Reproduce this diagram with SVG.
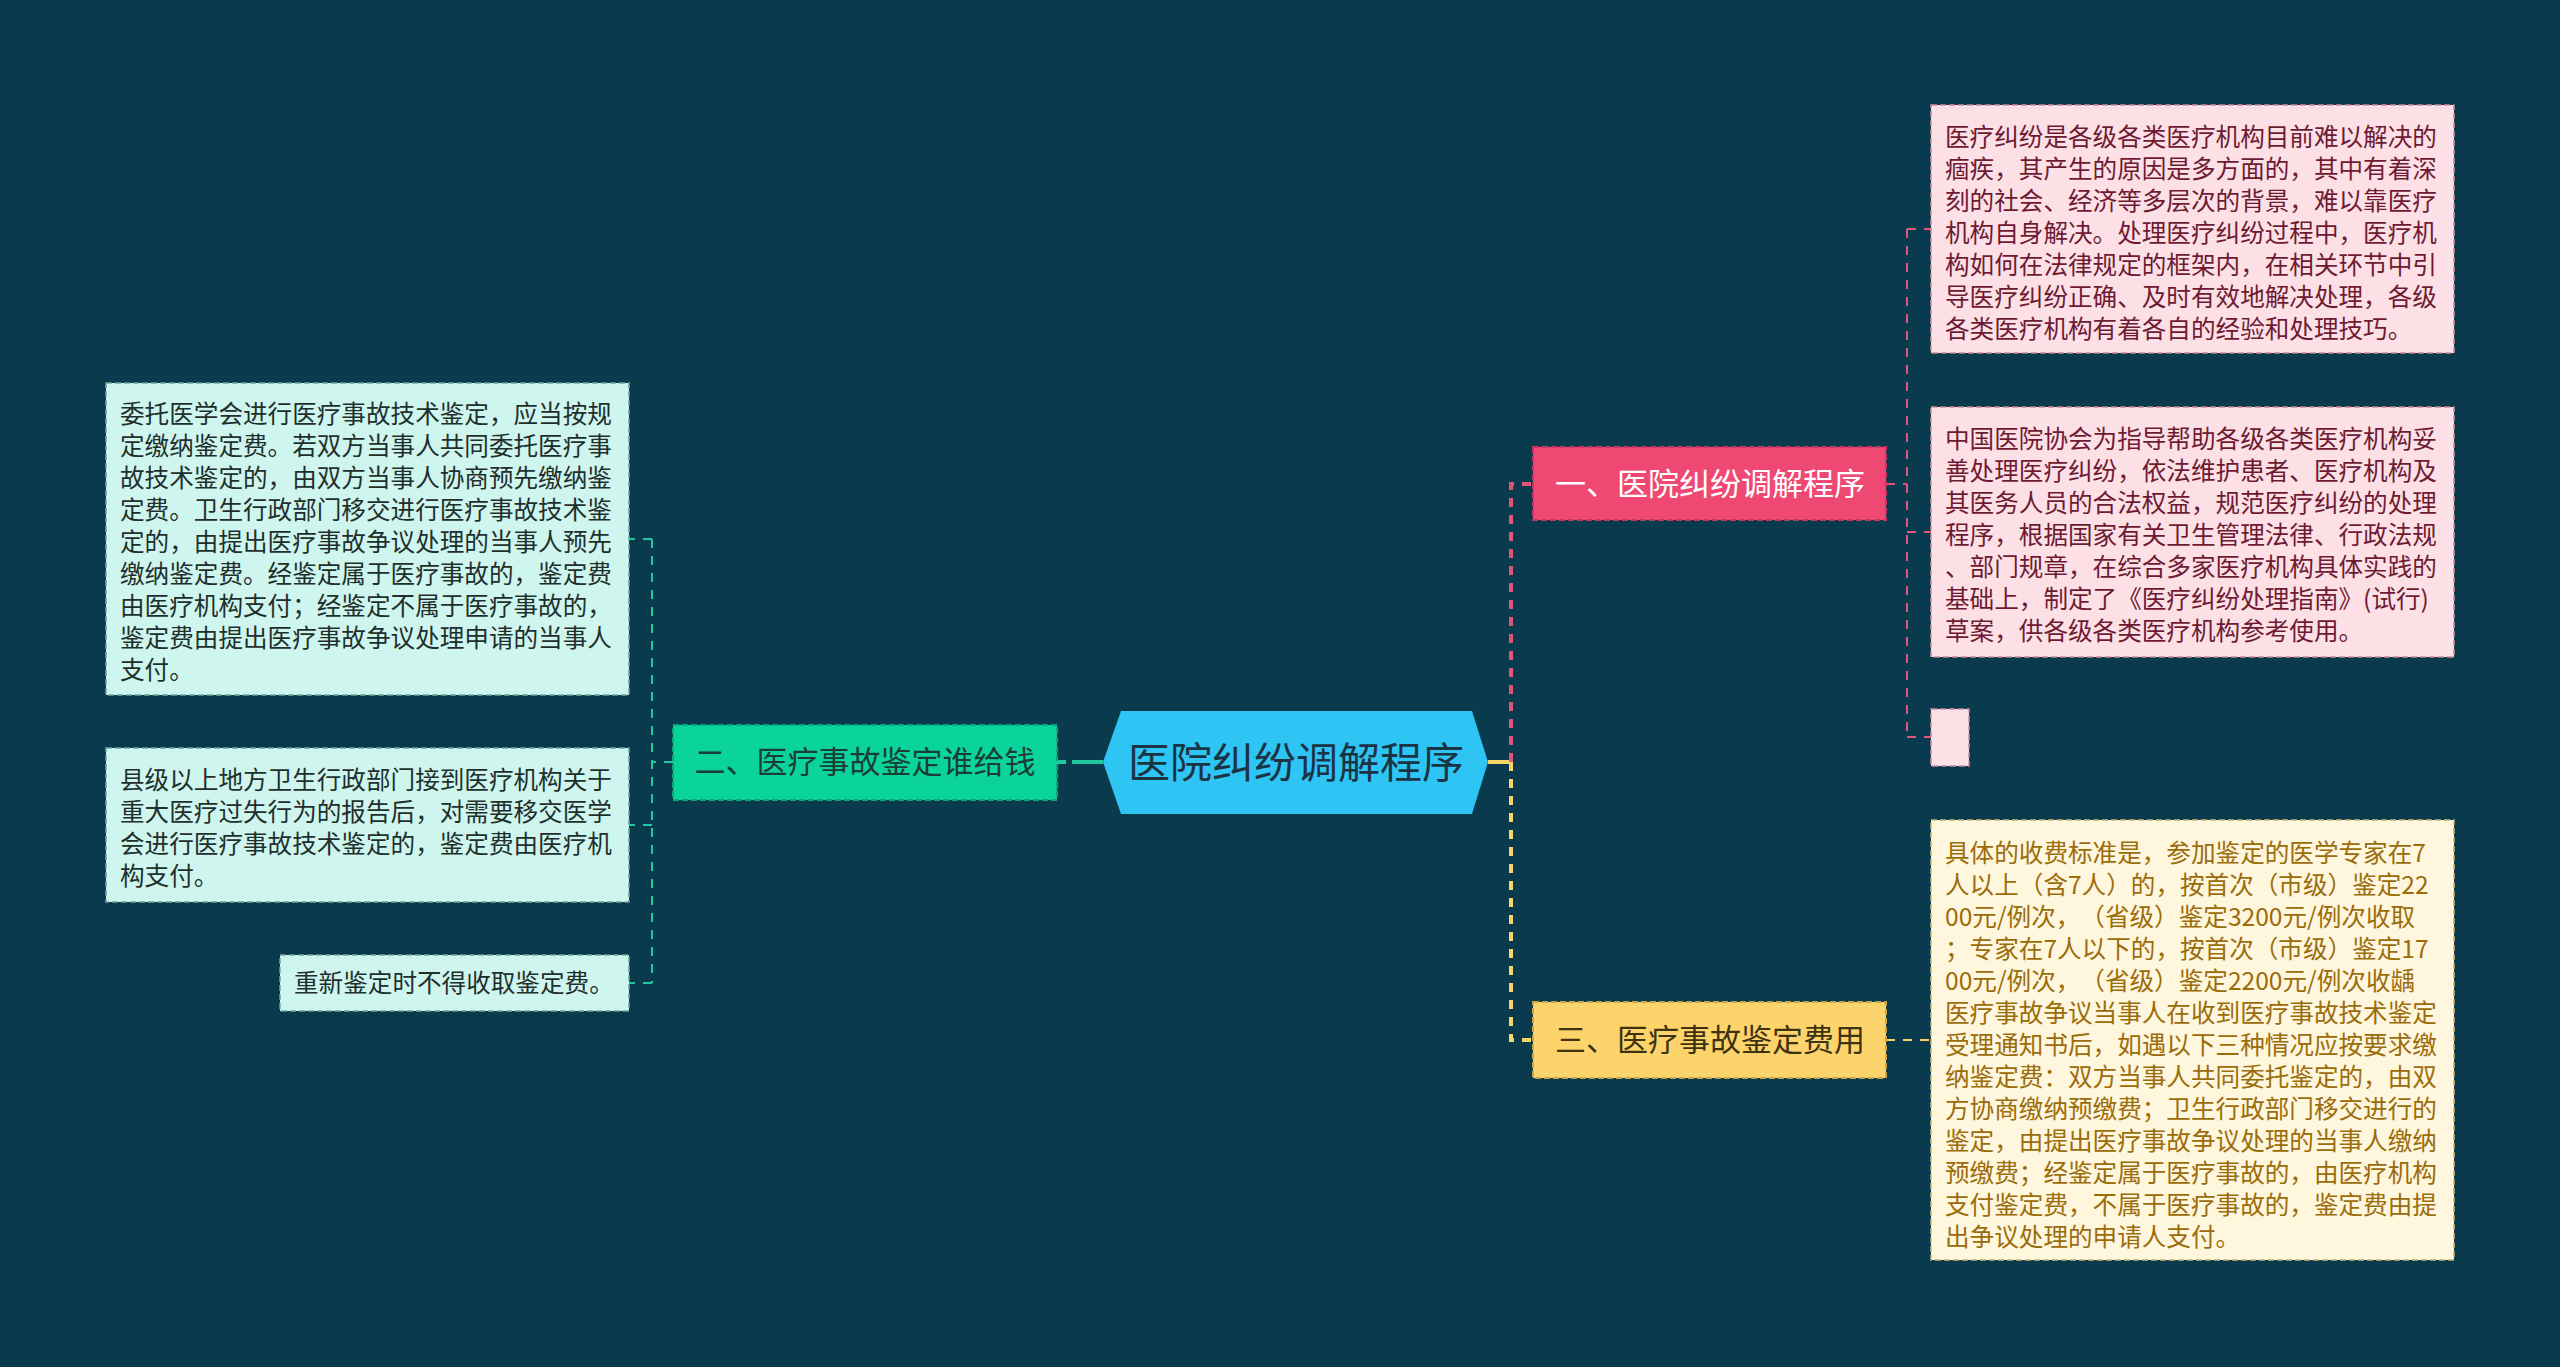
<svg xmlns="http://www.w3.org/2000/svg" width="2560" height="1367" viewBox="0 0 2560 1367">
<defs>
<style>
text{font-family:"Noto Sans CJK SC","Microsoft YaHei",sans-serif;text-spacing-trim:space-all;font-feature-settings:"chws" 0,"halt" 0;}
.bt{font-size:24.6px;}
.nt{font-size:31px;text-anchor:middle;}
.pinkbox{fill:#fde0e6;stroke:#c98a9c;stroke-width:1.5;stroke-dasharray:6 3;}
.pinkt{fill:#6e1a33;}
.yelbox{fill:#fff6de;stroke:#c9b47a;stroke-width:1.5;stroke-dasharray:6 3;}
.yelt{fill:#9b6c0a;}
.grnbox{fill:#cef5ee;stroke:#6fa89c;stroke-width:1.5;stroke-dasharray:6 3;}
.grnt{fill:#1e2f2c;}
.c-pink{fill:none;stroke:#e0557a;stroke-dasharray:9 8;}
.c-yel{fill:none;stroke:#f5d46a;stroke-dasharray:9 8;}
.c-grn{fill:none;stroke:#20c9a0;stroke-dasharray:9 8;}
</style>
</defs>
<rect x="0" y="0" width="2560" height="1367" fill="#093a4e"/>

<g id="connectors">
  <line x1="1488" y1="762" x2="1511" y2="762" stroke="#f5d46a" stroke-width="4"/>
  <path class="c-pink" stroke-width="4" d="M1511 762 V484 H1533"/>
  <path class="c-yel" stroke-width="4" d="M1511 762 V1040 H1533"/>
  <path class="c-pink" stroke-width="2" d="M1886 484 H1907"/>
  <path class="c-pink" stroke-width="2" d="M1907 229 V737"/>
  <path class="c-pink" stroke-width="2" d="M1907 229 H1931 M1907 532 H1931 M1907 737 H1931"/>
  <path class="c-yel" stroke-width="2" d="M1886 1040 H1931"/>
  <line x1="1072" y1="762" x2="1103" y2="762" stroke="#20c9a0" stroke-width="4"/>
  <path class="c-grn" stroke-width="4" d="M1057 762 H1072"/>
  <path class="c-grn" stroke-width="2" d="M673 762 H652"/>
  <path class="c-grn" stroke-width="2" d="M652 539 V983"/>
  <path class="c-grn" stroke-width="2" d="M652 539 H629 M652 825 H629 M652 983 H629"/>
</g>

<g id="center">
  <polygon points="1121,711 1472,711 1488,762 1472,814 1121,814 1103,762" fill="#2ec4f3"/>
  <text x="1296" y="778" font-size="42" text-anchor="middle" fill="#1b3444">医院纠纷调解程序</text>
</g>

<g id="n1">
  <rect x="1533" y="447" width="353" height="73" fill="#ef4873" stroke="#c5375e" stroke-width="2" stroke-dasharray="6 3"/>
  <text class="nt" x="1710" y="495" fill="#ffffff">一、医院纠纷调解程序</text>
</g>

<g id="n2">
  <rect x="673" y="725" width="384" height="75" fill="#0ad49c" stroke="#0aa57a" stroke-width="2" stroke-dasharray="6 3"/>
  <text class="nt" x="865" y="773" fill="#1a3e36">二、医疗事故鉴定谁给钱</text>
</g>

<g id="n3">
  <rect x="1533" y="1002" width="353" height="76" fill="#fdd36b" stroke="#c9a648" stroke-width="2" stroke-dasharray="6 3"/>
  <text class="nt" x="1710" y="1051" fill="#3d3310">三、医疗事故鉴定费用</text>
</g>

<g id="p1">
  <rect class="pinkbox" x="1931" y="105" width="523" height="248"/>
  <text class="bt pinkt">
    <tspan x="1945" y="146">医疗纠纷是各级各类医疗机构目前难以解决的</tspan>
    <tspan x="1945" y="178">痼疾，其产生的原因是多方面的，其中有着深</tspan>
    <tspan x="1945" y="210">刻的社会、经济等多层次的背景，难以靠医疗</tspan>
    <tspan x="1945" y="242">机构自身解决。处理医疗纠纷过程中，医疗机</tspan>
    <tspan x="1945" y="274">构如何在法律规定的框架内，在相关环节中引</tspan>
    <tspan x="1945" y="306">导医疗纠纷正确、及时有效地解决处理，各级</tspan>
    <tspan x="1945" y="338">各类医疗机构有着各自的经验和处理技巧。</tspan>
  </text>
</g>

<g id="p2">
  <rect class="pinkbox" x="1931" y="407" width="523" height="250"/>
  <text class="bt pinkt">
    <tspan x="1945" y="448">中国医院协会为指导帮助各级各类医疗机构妥</tspan>
    <tspan x="1945" y="480">善处理医疗纠纷，依法维护患者、医疗机构及</tspan>
    <tspan x="1945" y="512">其医务人员的合法权益，规范医疗纠纷的处理</tspan>
    <tspan x="1945" y="544">程序，根据国家有关卫生管理法律、行政法规</tspan>
    <tspan x="1945" y="576">、部门规章，在综合多家医疗机构具体实践的</tspan>
    <tspan x="1945" y="608">基础上，制定了《医疗纠纷处理指南》(试行)</tspan>
    <tspan x="1945" y="640">草案，供各级各类医疗机构参考使用。</tspan>
  </text>
</g>

<g id="p3">
  <rect class="pinkbox" x="1931" y="709" width="38" height="57"/>
</g>

<g id="y1">
  <rect class="yelbox" x="1931" y="820" width="523" height="440"/>
  <text class="bt yelt">
    <tspan x="1945" y="862">具体的收费标准是，参加鉴定的医学专家在7</tspan>
    <tspan x="1945" y="894">人以上（含7人）的，按首次（市级）鉴定22</tspan>
    <tspan x="1945" y="926">00元/例次，（省级）鉴定3200元/例次收取</tspan>
    <tspan x="1945" y="958">；专家在7人以下的，按首次（市级）鉴定17</tspan>
    <tspan x="1945" y="990">00元/例次，（省级）鉴定2200元/例次收龋</tspan>
    <tspan x="1945" y="1022">医疗事故争议当事人在收到医疗事故技术鉴定</tspan>
    <tspan x="1945" y="1054">受理通知书后，如遇以下三种情况应按要求缴</tspan>
    <tspan x="1945" y="1086">纳鉴定费：双方当事人共同委托鉴定的，由双</tspan>
    <tspan x="1945" y="1118">方协商缴纳预缴费；卫生行政部门移交进行的</tspan>
    <tspan x="1945" y="1150">鉴定，由提出医疗事故争议处理的当事人缴纳</tspan>
    <tspan x="1945" y="1182">预缴费；经鉴定属于医疗事故的，由医疗机构</tspan>
    <tspan x="1945" y="1214">支付鉴定费，不属于医疗事故的，鉴定费由提</tspan>
    <tspan x="1945" y="1246">出争议处理的申请人支付。</tspan>
  </text>
</g>

<g id="g1">
  <rect class="grnbox" x="106" y="383" width="523" height="312"/>
  <text class="bt grnt">
    <tspan x="120" y="423">委托医学会进行医疗事故技术鉴定，应当按规</tspan>
    <tspan x="120" y="455">定缴纳鉴定费。若双方当事人共同委托医疗事</tspan>
    <tspan x="120" y="487">故技术鉴定的，由双方当事人协商预先缴纳鉴</tspan>
    <tspan x="120" y="519">定费。卫生行政部门移交进行医疗事故技术鉴</tspan>
    <tspan x="120" y="551">定的，由提出医疗事故争议处理的当事人预先</tspan>
    <tspan x="120" y="583">缴纳鉴定费。经鉴定属于医疗事故的，鉴定费</tspan>
    <tspan x="120" y="615">由医疗机构支付；经鉴定不属于医疗事故的，</tspan>
    <tspan x="120" y="647">鉴定费由提出医疗事故争议处理申请的当事人</tspan>
    <tspan x="120" y="679">支付。</tspan>
  </text>
</g>

<g id="g2">
  <rect class="grnbox" x="106" y="748" width="523" height="154"/>
  <text class="bt grnt">
    <tspan x="120" y="789">县级以上地方卫生行政部门接到医疗机构关于</tspan>
    <tspan x="120" y="821">重大医疗过失行为的报告后，对需要移交医学</tspan>
    <tspan x="120" y="853">会进行医疗事故技术鉴定的，鉴定费由医疗机</tspan>
    <tspan x="120" y="885">构支付。</tspan>
  </text>
</g>

<g id="g3">
  <rect class="grnbox" x="280" y="955" width="349" height="56"/>
  <text class="bt grnt"><tspan x="294" y="992">重新鉴定时不得收取鉴定费。</tspan></text>
</g>
</svg>
